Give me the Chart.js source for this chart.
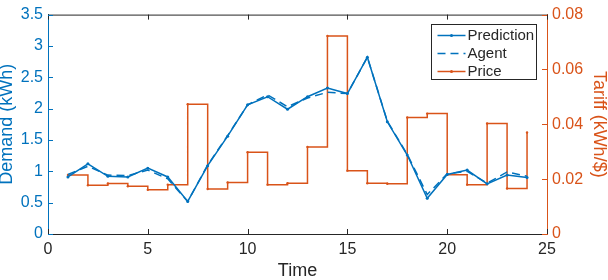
<!DOCTYPE html>
<html>
<head>
<meta charset="utf-8">
<script src="https://cdn.jsdelivr.net/npm/chart.js@4/dist/chart.umd.min.js"></script>
<style>
  body { margin: 0; background: #fff; }
  canvas { display: block; }
</style>
</head>
<body>
<canvas id="chart" width="608" height="280"></canvas>
<script>
// hours of the day (x axis)
var hours = [1,2,3,4,5,6,7,8,9,10,11,12,13,14,15,16,17,18,19,20,21,22,23,24];
// demand in kWh
var prediction = [0.91,1.12,0.92,0.91,1.05,0.91,0.52,1.09,1.56,2.06,2.19,1.99,2.19,2.33,2.24,2.82,1.79,1.26,0.57,0.95,1.02,0.80,0.94,0.90];
var agent      = [0.95,1.08,0.94,0.93,1.02,0.88,0.52,1.10,1.57,2.06,2.22,2.03,2.17,2.26,2.24,2.82,1.80,1.27,0.63,0.96,1.00,0.81,0.99,0.92];
// tariff
var price = [0.0215,0.0178,0.0184,0.0174,0.0161,0.0180,0.0473,0.0164,0.0188,0.0298,0.0180,0.0185,0.0317,0.0722,0.0231,0.0185,0.0183,0.0425,0.0439,0.0216,0.0180,0.0403,0.0166,0.0370];

var BLUE = "#0072BD";
var ORANGE = "#D95319";
var DARK = "#262626";
var FONT = "'Liberation Sans', Arial, sans-serif";

function pts(ys){
  var out = [];
  for (var i=0;i<hours.length;i++) out.push({x: hours[i], y: ys[i]});
  return out;
}

// plain number labels: 3 instead of 3.0
function plain(v){ return String(Math.round(v * 1000) / 1000); }

// inward tick marks + top border + boxed legend, like the original plot
var boxTicks = {
  id: "boxTicks",
  afterDraw: function(chart){
    var ctx = chart.ctx, a = chart.chartArea;
    var sx = chart.scales.x, sl = chart.scales.y, sr = chart.scales.y1;
    var L = 5;
    ctx.save();
    ctx.lineWidth = 1;
    ctx.strokeStyle = DARK;
    ctx.beginPath();
    ctx.moveTo(a.left, a.top + 0.5); ctx.lineTo(a.right, a.top + 0.5);
    sx.ticks.forEach(function(t){
      var px = Math.round(sx.getPixelForValue(t.value)) + 0.5;
      ctx.moveTo(px, a.bottom); ctx.lineTo(px, a.bottom - L);
      ctx.moveTo(px, a.top); ctx.lineTo(px, a.top + L);
    });
    ctx.stroke();
    ctx.strokeStyle = BLUE;
    ctx.beginPath();
    sl.ticks.forEach(function(t){
      var py = Math.round(sl.getPixelForValue(t.value)) + 0.5;
      ctx.moveTo(a.left, py); ctx.lineTo(a.left + L, py);
    });
    ctx.stroke();
    ctx.strokeStyle = ORANGE;
    ctx.beginPath();
    sr.ticks.forEach(function(t){
      var py = Math.round(sr.getPixelForValue(t.value)) + 0.5;
      ctx.moveTo(a.right, py); ctx.lineTo(a.right - L, py);
    });
    ctx.stroke();

    // legend box
    var bw = 105, bh = 55;
    var bx = Math.round(a.right - 11 - bw) + 0.5, by = Math.round(a.top + 9) + 0.5;
    ctx.fillStyle = "#fff";
    ctx.fillRect(bx, by, bw, bh);
    ctx.strokeStyle = DARK;
    ctx.strokeRect(bx, by, bw, bh);
    var items = [
      {label: "Prediction", color: BLUE, dash: [], dot: true},
      {label: "Agent", color: BLUE, dash: [8,5], dot: false},
      {label: "Price", color: ORANGE, dash: [], dot: true}
    ];
    ctx.font = "15px " + FONT;
    ctx.textBaseline = "middle";
    items.forEach(function(it, i){
      var y = by + 11 + i * 18;
      ctx.strokeStyle = it.color;
      ctx.lineWidth = 1.5;
      ctx.setLineDash(it.dash);
      ctx.beginPath();
      ctx.moveTo(bx + 6, y); ctx.lineTo(bx + 34, y);
      ctx.stroke();
      ctx.setLineDash([]);
      if (it.dot){
        ctx.fillStyle = it.color;
        ctx.beginPath(); ctx.arc(bx + 20, y, 1.5, 0, Math.PI*2); ctx.fill();
      }
      ctx.fillStyle = DARK;
      ctx.fillText(it.label, bx + 36, y);
    });
    ctx.restore();
  }
};

new Chart(document.getElementById("chart"), {
  type: "line",
  data: {
    datasets: [
      {label: "Prediction", data: pts(prediction), borderColor: BLUE, backgroundColor: BLUE,
       borderWidth: 1.5, pointRadius: 1.5, pointBorderWidth: 0, yAxisID: "y"},
      {label: "Agent", data: pts(agent), borderColor: BLUE, backgroundColor: BLUE,
       borderWidth: 1.5, borderDash: [8,5], pointRadius: 0, yAxisID: "y"},
      {label: "Price", data: pts(price), borderColor: ORANGE, backgroundColor: ORANGE,
       borderWidth: 1.5, pointRadius: 1.2, pointBorderWidth: 0, stepped: true, yAxisID: "y1"}
    ]
  },
  options: {
    responsive: false,
    animation: false,
    layout: {padding: {top: 6, left: 0, right: 0, bottom: 0}},
    plugins: {legend: {display: false}, tooltip: {enabled: false}},
    scales: {
      x: {
        type: "linear", min: 0, max: 25,
        ticks: {stepSize: 5, color: DARK, font: {family: FONT, size: 16}, padding: 6, maxRotation: 0, callback: plain},
        grid: {display: false, drawTicks: false},
        border: {color: DARK, width: 1},
        title: {display: true, text: "Time", color: DARK, font: {family: FONT, size: 18, lineHeight: 1}, padding: {top: 0, bottom: 0}},
        afterFit: function(s){ s.height = 46; }
      },
      y: {
        position: "left", min: 0, max: 3.5,
        ticks: {stepSize: 0.5, color: BLUE, font: {family: FONT, size: 16}, padding: 5, callback: plain},
        grid: {display: false, drawTicks: false},
        border: {color: BLUE, width: 1},
        title: {display: true, text: "Demand (kWh)", color: BLUE, font: {family: FONT, size: 18, lineHeight: 1}, padding: {top: -2, bottom: 0}},
        afterFit: function(s){ s.width = 48; }
      },
      y1: {
        position: "right", min: 0, max: 0.08,
        ticks: {stepSize: 0.02, color: ORANGE, font: {family: FONT, size: 16}, padding: 5, callback: plain},
        grid: {display: false, drawTicks: false},
        border: {color: ORANGE, width: 1},
        title: {display: true, text: "Tariff (kWh/$)", color: ORANGE, font: {family: FONT, size: 18, lineHeight: 1}, padding: {top: 0, bottom: 0}},
        afterFit: function(s){ s.width = 61; }
      }
    }
  },
  plugins: [boxTicks]
});
</script>
</body>
</html>
